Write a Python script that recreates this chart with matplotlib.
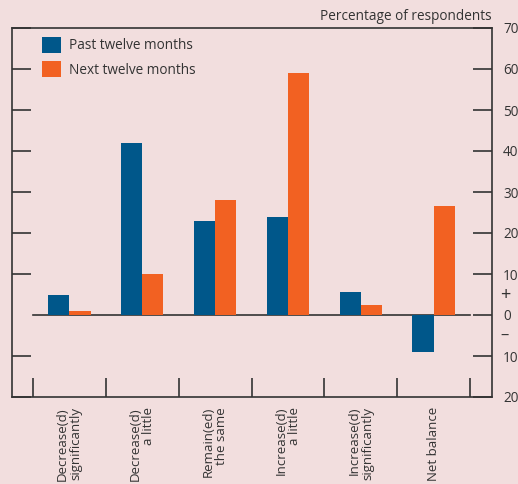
import matplotlib
matplotlib.use("Agg")
import matplotlib.pyplot as plt
import matplotlib.transforms as mtransforms
import numpy as np

categories = ["Decrease(d)\nsignificantly", "Decrease(d)\na little", "Remain(ed)\nthe same",
              "Increase(d)\na little", "Increase(d)\nsignificantly", "Net balance"]
past = [5, 42, 23, 24, 5.5, -9]
nxt = [1, 10, 28, 59, 2.5, 26.5]
series_names = ["Past twelve months", "Next twelve months"]
ytick_vals = [-20, -10, 10, 20, 30, 40, 50, 60, 70]
ytick_labels = ["20", "10", "10", "20", "30", "40", "50", "60", "70"]

BG = "#f2dede"
BLUE = "#00578a"
ORANGE = "#f26122"
DARK = "#333333"

plt.rcParams['font.family'] = ['Open Sans', 'DejaVu Sans']

fig = plt.figure(figsize=(5.18, 4.84), dpi=100, facecolor=BG)
ax = fig.add_axes([12/518, 1-397/484, 480/518, 369/484], facecolor=BG)

x = np.arange(len(categories))
w = 0.29
ax.plot([-0.5, len(categories) - 0.5], [0, 0], color=DARK, lw=1.2, zorder=1)
ax.bar(x - w/2, past, width=w, color=BLUE, zorder=2, label=series_names[0])
ax.bar(x + w/2, nxt, width=w, color=ORANGE, zorder=2, label=series_names[1])

ax.set_xlim(-0.5 - 21/73, len(categories) - 0.5 + 22/73)
ax.set_ylim(-20, 70)

for s in ax.spines.values():
    s.set_color(DARK)
    s.set_linewidth(1.2)

ax.set_yticks(ytick_vals)
ax.set_yticklabels(ytick_labels)
ax.set_yticks([0], minor=True)
ax.set_yticklabels(["0"], minor=True)
ax.tick_params(axis='y', which='major', direction='in', length=14, width=1.2, color=DARK,
               left=True, right=True, labelleft=False, labelright=True,
               labelsize=9.8, labelcolor=DARK, pad=8)
ax.tick_params(axis='y', which='minor', direction='in', length=14, width=1.2, color=DARK,
               left=False, right=True, labelleft=False, labelright=True,
               labelsize=9.8, labelcolor=DARK, pad=8)

ax.set_xticks(np.arange(-0.5, len(categories)))
ax.set_xticklabels([])
ax.tick_params(axis='x', direction='in', length=14, width=1.2, color=DARK, top=False)

trans = mtransforms.blended_transform_factory(ax.transAxes, ax.transData)
ax.text(1.017, 5, "+", transform=trans, ha='left', va='center', fontsize=13, color=DARK)
ax.text(1.017, -5, "–", transform=trans, ha='left', va='center', fontsize=12, color=DARK)

transx = mtransforms.blended_transform_factory(ax.transData, ax.transAxes)
for i, c in enumerate(categories):
    ax.text(i, -0.027, c, transform=transx, rotation=90, ha='center', va='top',
            multialignment='right', fontsize=9.5, color=DARK, linespacing=1.05)

fig.text(492/518, 1-17/484, "Percentage of respondents", ha='right', va='center',
         fontsize=9.8, color=DARK)

ax.legend(loc='upper left', bbox_to_anchor=(0.0625, 0.976), frameon=False,
          handlelength=1.4, handleheight=1.4, handletextpad=0.55, labelspacing=0.58,
          fontsize=9.8, labelcolor=DARK, borderaxespad=0, borderpad=0)

fig.savefig("out.png", dpi=100, facecolor=BG)
